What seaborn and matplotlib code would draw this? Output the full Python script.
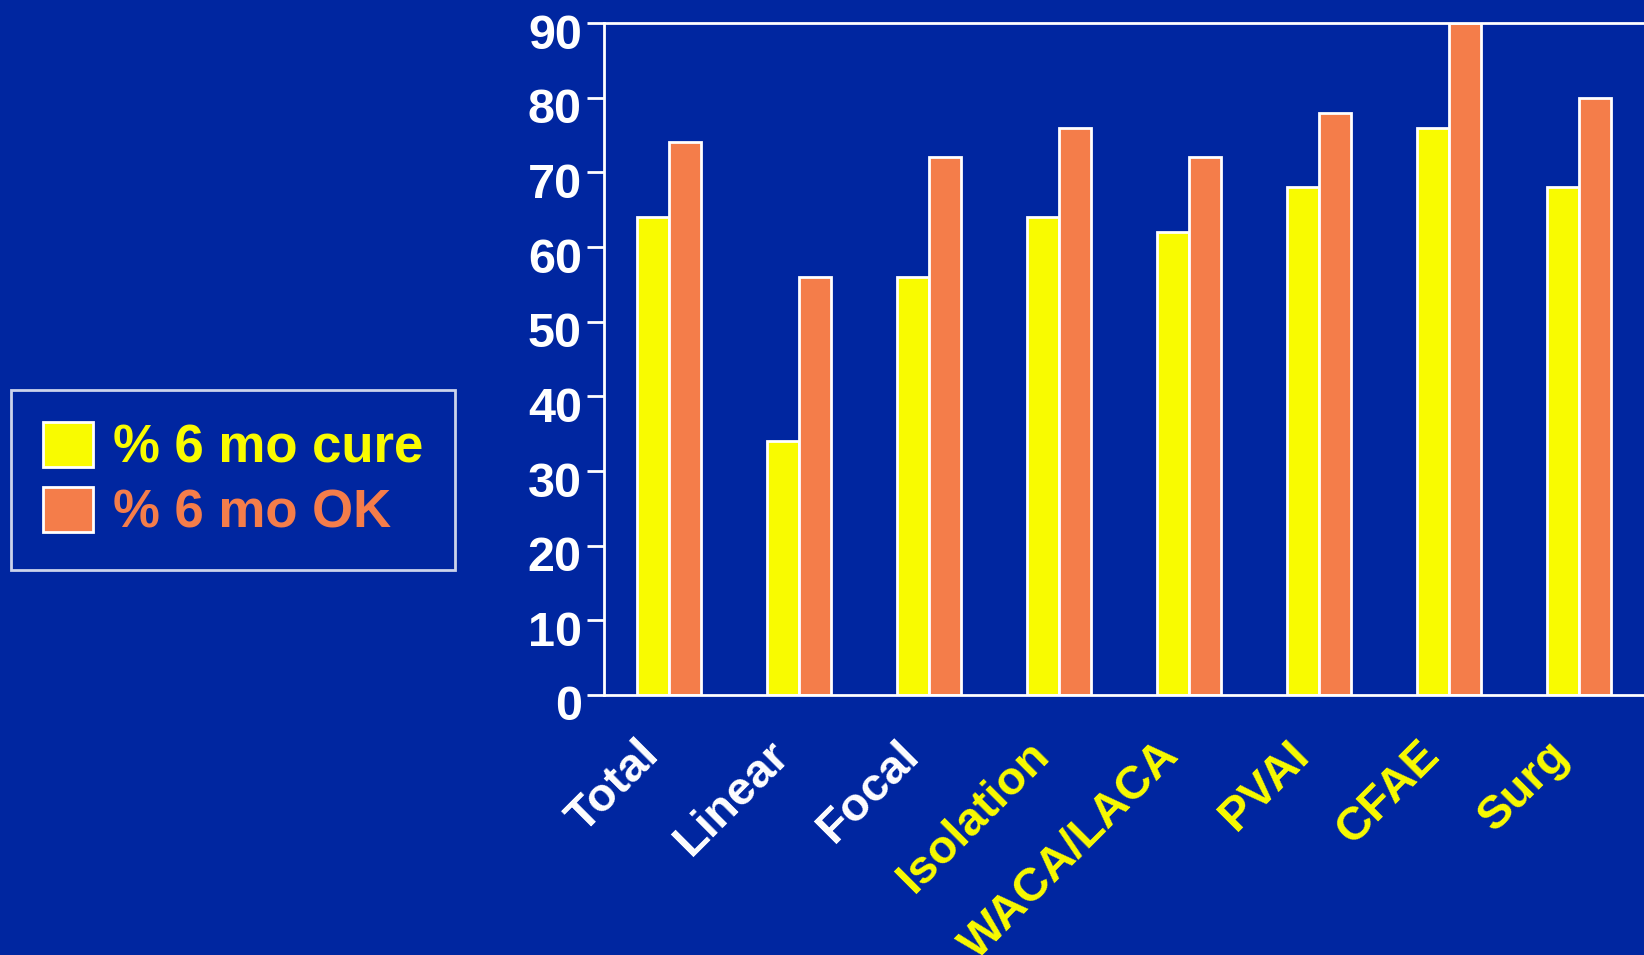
import matplotlib
matplotlib.use("Agg")
import matplotlib.pyplot as plt
import matplotlib.transforms as mtransforms
import pandas as pd
import seaborn as sns

# Ablation strategies and six-month outcomes (%)
categories = ["Total", "Linear", "Focal", "Isolation", "WACA/LACA", "PVAI", "CFAE", "Surg"]
cure_6mo = [64, 34, 56, 64, 62, 68, 76, 68]
ok_6mo = [74, 56, 72, 76, 72, 78, 90, 80]
series_names = ["% 6 mo cure", "% 6 mo OK"]
y_ticks = [0, 10, 20, 30, 40, 50, 60, 70, 80, 90]

BG = "#0026A0"
YELLOW = "#F9FB00"
ORANGE = "#F47D4A"
WHITE = "#FFFFFF"
label_colors = [WHITE, WHITE, WHITE, YELLOW, YELLOW, YELLOW, YELLOW, YELLOW]

df = pd.DataFrame({
    "category": categories * 2,
    "value": cure_6mo + ok_6mo,
    "series": [series_names[0]] * len(categories) + [series_names[1]] * len(categories),
})

sns.set_theme(style="white")
plt.rcParams["font.family"] = ["Liberation Sans", "DejaVu Sans"]
plt.rcParams["font.weight"] = "bold"

fig = plt.figure(figsize=(16.44, 9.55), dpi=100, facecolor=BG)
ax = fig.add_axes([604 / 1644, 260 / 955, 1040 / 1644, 672 / 955])
ax.set_facecolor(BG)

sns.barplot(
    data=df, x="category", y="value", hue="series",
    palette=[YELLOW, ORANGE], width=0.49, gap=0,
    edgecolor=WHITE, linewidth=2, saturation=1, ax=ax, legend=True,
)

ax.set_xlim(-0.5, len(categories) - 0.5)
ax.set_ylim(0, 90)
ax.set_yticks(y_ticks)
ax.set_xlabel("")
ax.set_ylabel("")

for side in ["left", "bottom", "top"]:
    ax.spines[side].set_color(WHITE)
    ax.spines[side].set_linewidth(2)
ax.spines["right"].set_visible(False)

ax.tick_params(axis="y", colors=WHITE, length=12, width=2, direction="out",
               pad=4, labelsize=35, left=True)
ax.tick_params(axis="x", length=0, pad=27, labelsize=34, bottom=False)
ydown = mtransforms.ScaledTranslation(0, -8 / 100, fig.dpi_scale_trans)
for lab in ax.get_yticklabels():
    lab.set_fontweight("bold")
    lab.set_transform(lab.get_transform() + ydown)

ax.set_xticks(range(len(categories)))
ax.set_xticklabels(categories, rotation=45, ha="right", va="top",
                   rotation_mode="anchor", fontweight="bold")
shift = mtransforms.ScaledTranslation(-32 / 100, 0, fig.dpi_scale_trans)
for lab, col in zip(ax.get_xticklabels(), label_colors):
    lab.set_color(col)
    lab.set_transform(lab.get_transform() + shift)

handles, labels = ax.get_legend_handles_labels()
ax.get_legend().remove()
leg = fig.legend(
    handles, labels, loc="upper left",
    bbox_to_anchor=(11 / 1644, 1 - 390 / 955), bbox_transform=fig.transFigure,
    borderaxespad=0, frameon=True, fancybox=False, facecolor=BG,
    edgecolor=WHITE, prop={"size": 38, "weight": "bold"},
    handlelength=0.95, handleheight=0.95, handletextpad=0.38,
    borderpad=0.6, labelspacing=0.25,
)
leg.get_frame().set_linewidth(2)
for txt, col in zip(leg.get_texts(), [YELLOW, ORANGE]):
    txt.set_color(col)

fig.savefig("out.png", dpi=100, facecolor=BG)
